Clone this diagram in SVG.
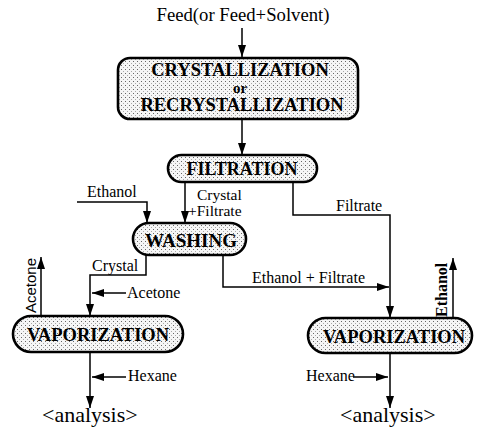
<svg xmlns="http://www.w3.org/2000/svg" width="477" height="428" viewBox="0 0 477 428">
<defs>
<pattern id="dots" width="4" height="4" patternUnits="userSpaceOnUse">
<rect width="4" height="4" fill="#f6f6f6"/>
<rect x="1" y="1" width="1" height="1" fill="#666"/>
<rect x="3" y="3" width="1" height="1" fill="#aaa"/>
</pattern>
<marker id="ah" viewBox="0 0 12 8" refX="12" refY="4" markerWidth="12" markerHeight="8" markerUnits="userSpaceOnUse" orient="auto">
<path d="M0,0 L12,4 L0,8 Z" fill="#000"/>
</marker>
</defs>
<style>
.box{fill:url(#dots);stroke:#000;stroke-width:2.6}
.bt{font-family:"Liberation Serif","Times New Roman",serif;font-weight:bold;text-anchor:middle;fill:#000}
.lb{font-family:"Liberation Serif","Times New Roman",serif;font-size:16px;fill:#000}
.sm{font-size:15.5px}
.feed{font-size:18.7px;text-anchor:middle}
.ls{font-family:"Liberation Sans",Arial,sans-serif;font-size:15px;fill:#000}
.an{font-family:"Liberation Serif","Times New Roman",serif;font-size:22px;fill:#000}
.c{fill:none;stroke:#000;stroke-width:1.5}
.a{marker-end:url(#ah)}
</style>
<g id="connectors">
<path class="c a" d="M242,28 V57"/>
<path class="c a" d="M242,119 V155"/>
<path class="c a" d="M185,182 V223"/>
<path class="c a" d="M77,202 H147 V223"/>
<path class="c a" d="M293,182 V215 H390 V318"/>
<path class="c a" d="M223,255 V287 H389"/>
<path class="c a" d="M146,255 V275 H90 V316"/>
<path class="c a" d="M126,293 H92"/>
<path class="c a" d="M41,316 V257"/>
<path class="c a" d="M90,352 V408"/>
<path class="c a" d="M126,377 H92"/>
<path class="c a" d="M390,353 V408"/>
<path class="c a" d="M353,377 H388"/>
<path class="c a" d="M453,318 V258"/>
</g>
<g id="labels">
<text class="lb feed" x="243" y="21">Feed(or Feed+Solvent)</text>
<text class="lb" x="87" y="197">Ethanol</text>
<text class="lb sm" x="197" y="200">Crystal</text>
<text class="lb sm" x="188" y="216">+Filtrate</text>
<text class="lb" x="336" y="211">Filtrate</text>
<text class="lb" x="252" y="283">Ethanol + Filtrate</text>
<text class="lb" x="92" y="271">Crystal</text>
<text class="lb" x="127" y="298">Acetone</text>
<text class="lb" x="128" y="381">Hexane</text>
<text class="lb" x="306" y="381">Hexane</text>
<text class="ls" transform="translate(36,313) rotate(-90)">Acetone</text>
<text class="lb" transform="translate(447,317) rotate(-90)" font-weight="bold">Ethanol</text>
<text class="an" x="42" y="422">&lt;analysis&gt;</text>
<text class="an" x="340" y="422">&lt;analysis&gt;</text>
</g>
<g id="crystallization">
<rect class="box" x="118" y="58" width="240" height="61" rx="12"/>
<text class="bt" x="240" y="76" font-size="18.5">CRYSTALLIZATION</text>
<text class="bt" x="240" y="93" font-size="15">or</text>
<text class="bt" x="242" y="111" font-size="18.5">RECRYSTALLIZATION</text>
</g>
<g id="filtration">
<rect class="box" x="168" y="155" width="149" height="27" rx="13.5"/>
<text class="bt" x="242" y="175" font-size="18">FILTRATION</text>
</g>
<g id="washing">
<rect class="box" x="133" y="223" width="113" height="32" rx="16"/>
<text class="bt" x="191" y="247" font-size="19">WASHING</text>
</g>
<g id="vaporization-left">
<rect class="box" x="13" y="316" width="170" height="36" rx="18"/>
<text class="bt" x="98" y="341" font-size="18.5">VAPORIZATION</text>
</g>
<g id="vaporization-right">
<rect class="box" x="308" y="318" width="164" height="35" rx="17.5"/>
<text class="bt" x="394" y="343" font-size="18.5">VAPORIZATION</text>
</g>
</svg>
